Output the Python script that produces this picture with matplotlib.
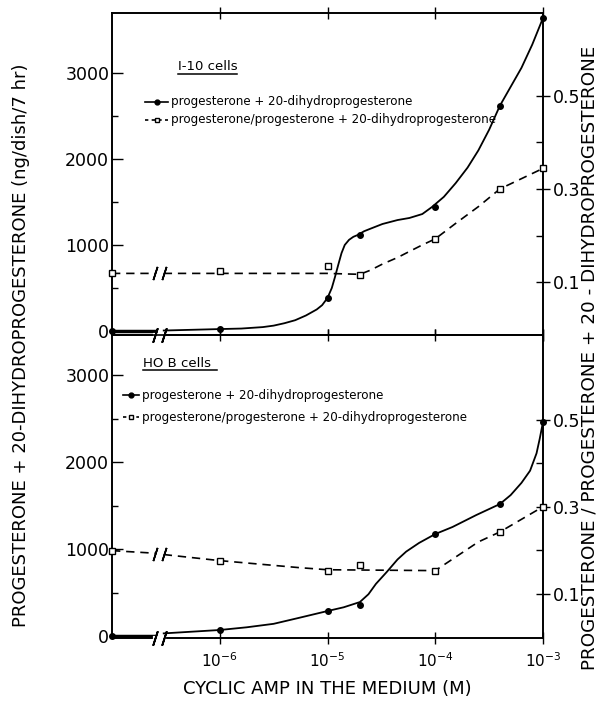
import numpy as np
import matplotlib
matplotlib.use("Agg")
import matplotlib.pyplot as plt
from matplotlib.lines import Line2D
import matplotlib.transforms as mtransforms

# concentraciones de AMP ciclico (el control se dibuja en el borde izquierdo, 1e-7)
conc = [1e-7, 1e-6, 1e-5, 2e-5, 1e-4, 4e-4, 1e-3]

# I-10 cells
i10_total = [0, 25, 384, 1116, 1442, 2620, 3640]
i10_ratio = [0.119, 0.125, 0.135, 0.115, 0.193, 0.300, 0.344]

# HO B cells
hob_total = [0, 69, 287, 356, 1172, 1517, 2460]
hob_ratio = [0.199, 0.176, 0.153, 0.165, 0.153, 0.242, 0.300]

# curvas trazadas a mano (log10 de la concentracion)
i10_total_curve_lx = [-7, -6.6, np.nan, -6.52, -6.0, -5.8, -5.6, -5.5, -5.4, -5.3, -5.2,
                      -5.1, -5.05, -5.0, -4.96, -4.93, -4.9, -4.87, -4.84, -4.8, -4.76,
                      -4.72, -4.66, -4.6, -4.49, -4.35, -4.24, -4.12, -4.03, -3.92, -3.81,
                      -3.7, -3.6, -3.5, -3.4, -3.3, -3.2, -3.1, -3.0]
i10_total_curve = [0, 0, np.nan, 5, 22, 28, 45, 62, 90, 125, 180,
                   250, 300, 384, 500, 630, 770, 905, 1000, 1060, 1095,
                   1116, 1160, 1190, 1244, 1290, 1314, 1360, 1442, 1560, 1720,
                   1900, 2100, 2340, 2620, 2840, 3060, 3330, 3640]
i10_ratio_curve_lx = [-7, -6.6, np.nan, -6.52, -5.0, -4.7, -4.6, -4.49, -4.35, -4.24,
                      -4.12, -4.0, -3.8, -3.6, -3.4, -3.2, -3.0]
i10_ratio_curve = [0.119, 0.119, np.nan, 0.119, 0.119, 0.117, 0.126, 0.139, 0.153, 0.166,
                   0.18, 0.193, 0.228, 0.262, 0.300, 0.322, 0.344]

hob_total_curve_lx = [-7, -6.6, np.nan, -6.52, -6.0, -5.75, -5.5, -5.27, -5.0, -4.85, -4.7,
                      -4.62, -4.55, -4.45, -4.35, -4.27, -4.15, -4.0, -3.84, -3.62, -3.4,
                      -3.3, -3.2, -3.12, -3.06, -3.03, -3.0]
hob_total_curve = [0, 0, np.nan, 30, 69, 100, 140, 207, 287, 330, 390,
                   480, 600, 736, 880, 970, 1070, 1172, 1253, 1390, 1517,
                   1620, 1760, 1900, 2100, 2270, 2460]
hob_ratio_curve_lx = [-7, -6.6, np.nan, -6.52, -6.0, -5.27, -5.0, -4.0, -3.6, -3.4, -3.0]
hob_ratio_curve = [0.199, 0.193, np.nan, 0.19, 0.176, 0.16, 0.155, 0.153, 0.219, 0.242, 0.300]

xtick_vals = [1e-6, 1e-5, 1e-4, 1e-3]
xtick_labels = ['10$^{-6}$', '10$^{-5}$', '10$^{-4}$', '10$^{-3}$']
left_ticks = [0, 1000, 2000, 3000]
right_ticks = [0.1, 0.3, 0.5]
right_labels = ['0.1', '0.3', '0.5']

W, H = 607, 702
BREAK = (10 ** -6.6, 10 ** -6.52)


def fx(px):
    return px / W


def fy(py):
    return 1 - py / H


def estilo_panel(ax, rax, ylim, rlim, show_xlabels):
    ax.set_xscale('log')
    ax.set_xlim(1e-7, 1e-3)
    ax.set_ylim(*ylim)
    rax.set_ylim(*rlim)
    ax.set_xticks(xtick_vals)
    ax.xaxis.set_minor_locator(matplotlib.ticker.NullLocator())
    if show_xlabels:
        ax.set_xticklabels(xtick_labels, fontsize=11)
    else:
        ax.set_xticklabels([])
    ax.tick_params(axis='x', which='major', direction='inout', length=9, width=1,
                   top=True, pad=5)
    ax.set_yticks(left_ticks)
    ax.set_yticklabels([str(t) for t in left_ticks], fontsize=12.5)
    ax.set_yticks([500, 1500, 2500], minor=True)
    ax.tick_params(axis='y', which='major', direction='in', length=8, width=1, pad=2)
    ax.tick_params(axis='y', which='minor', direction='in', length=4, width=1)
    rax.set_yticks(right_ticks)
    rax.set_yticklabels(right_labels, fontsize=12.5)
    rax.set_yticks([0.2, 0.4], minor=True)
    rax.tick_params(axis='y', which='major', direction='inout', length=10, width=1, pad=2)
    rax.tick_params(axis='y', which='minor', direction='in', length=5, width=1)
    for a in (ax, rax):
        for s in a.spines.values():
            s.set_linewidth(1.2)


def cortes(ax, y_data_list):
    # marcas "//" sobre el eje y sobre la linea discontinua
    trans = mtransforms.blended_transform_factory(ax.transData, ax.transAxes)
    ax.plot(BREAK, [0, 0], color='white', lw=3, transform=trans, clip_on=False, zorder=5)
    for b in BREAK:
        ax.plot([b], [0], marker=(2, 2, -18), ms=11, mew=1.3, color='black',
                transform=trans, clip_on=False, zorder=6)
        for yv in y_data_list:
            ax.plot([b], [yv], marker=(2, 2, -18), ms=10, mew=1.2, color='black', zorder=6)


def dibujar(ax, rax, total, ratio, tc_lx, tc, rc_lx, rc):
    ax.plot(10 ** np.array(tc_lx), tc, color='black', lw=1.3, zorder=3)
    ax.plot(conc, total, 'o', color='black', ms=4, clip_on=False, zorder=4)
    rax.plot(10 ** np.array(rc_lx), rc, color='black', lw=1.2, ls=(0, (5, 3.5)), zorder=3)
    rax.plot(conc, ratio, 's', color='black', mfc='white', ms=4, mew=1, clip_on=False, zorder=4)
    # linea de control gruesa en cero
    ax.plot(10 ** np.array(tc_lx[:2]), tc[:2], color='black', lw=2.5, zorder=3)


def leyenda(titulo, tx, ty, ul_x1, sample, e1, e2):
    fig.text(fx(tx), fy(ty), titulo, fontsize=9.5, va='center', ha='left')
    fig.add_artist(Line2D([fx(tx), fx(ul_x1)], [fy(ty + 7), fy(ty + 7)], color='black',
                          lw=1.1, transform=fig.transFigure))
    sx0, sx1 = sample
    for (ey, txt, ls, mk, mfc) in [(e1[0], e1[1], '-', 'o', 'black'),
                                    (e2[0], e2[1], (0, (2, 2)), 's', 'white')]:
        fig.add_artist(Line2D([fx(sx0), fx(sx1)], [fy(ey), fy(ey)], color='black', lw=1.2,
                              ls=ls, transform=fig.transFigure))
        fig.add_artist(Line2D([fx((sx0 + sx1) / 2)], [fy(ey)], marker=mk, ms=3.5,
                              color='black', mfc=mfc, transform=fig.transFigure))
        fig.text(fx(sx1 + 3), fy(ey), txt, fontsize=8.6, va='center', ha='left')


fig = plt.figure(figsize=(W / 100, H / 100), dpi=100)
ax1 = fig.add_axes([fx(112), fy(335), fx(543 - 112), 1 - 13 / H - fy(335)])
ax2 = fig.add_axes([fx(112), fy(638), fx(543 - 112), (638 - 335) / H])
r1 = ax1.twinx()
r2 = ax2.twinx()

estilo_panel(ax1, r1, (-47, 3698), (-0.013, 0.677), False)
estilo_panel(ax2, r2, (-23, 3460), (-0.002, 0.695), True)

dibujar(ax1, r1, i10_total, i10_ratio, i10_total_curve_lx, i10_total_curve,
        i10_ratio_curve_lx, i10_ratio_curve)
dibujar(ax2, r2, hob_total, hob_ratio, hob_total_curve_lx, hob_total_curve,
        hob_ratio_curve_lx, hob_ratio_curve)

cortes(r1, [i10_ratio[0]])
cortes(r2, [0.192])

ax2.set_xlabel('CYCLIC AMP IN THE MEDIUM (M)', fontsize=13, labelpad=7)

fig.text(fx(21), fy(345), 'PROGESTERONE + 20-DIHYDROPROGESTERONE (ng/dish/7 hr)',
         rotation=90, ha='center', va='center', fontsize=13)
fig.text(fx(590), fy(358), 'PROGESTERONE / PROGESTERONE + 20 - DIHYDROPROGESTERONE',
         rotation=90, ha='center', va='center', fontsize=13.2)

leyenda('I-10 cells', 178, 67, 237, (145, 168),
        (102, 'progesterone + 20-dihydroprogesterone'),
        (120, 'progesterone/progesterone + 20-dihydroprogesterone'))
leyenda('HO B cells', 143, 363, 217, (123, 139),
        (395, 'progesterone + 20-dihydroprogesterone'),
        (417, 'progesterone/progesterone + 20-dihydroprogesterone'))

fig.savefig('out.png', dpi=100)
